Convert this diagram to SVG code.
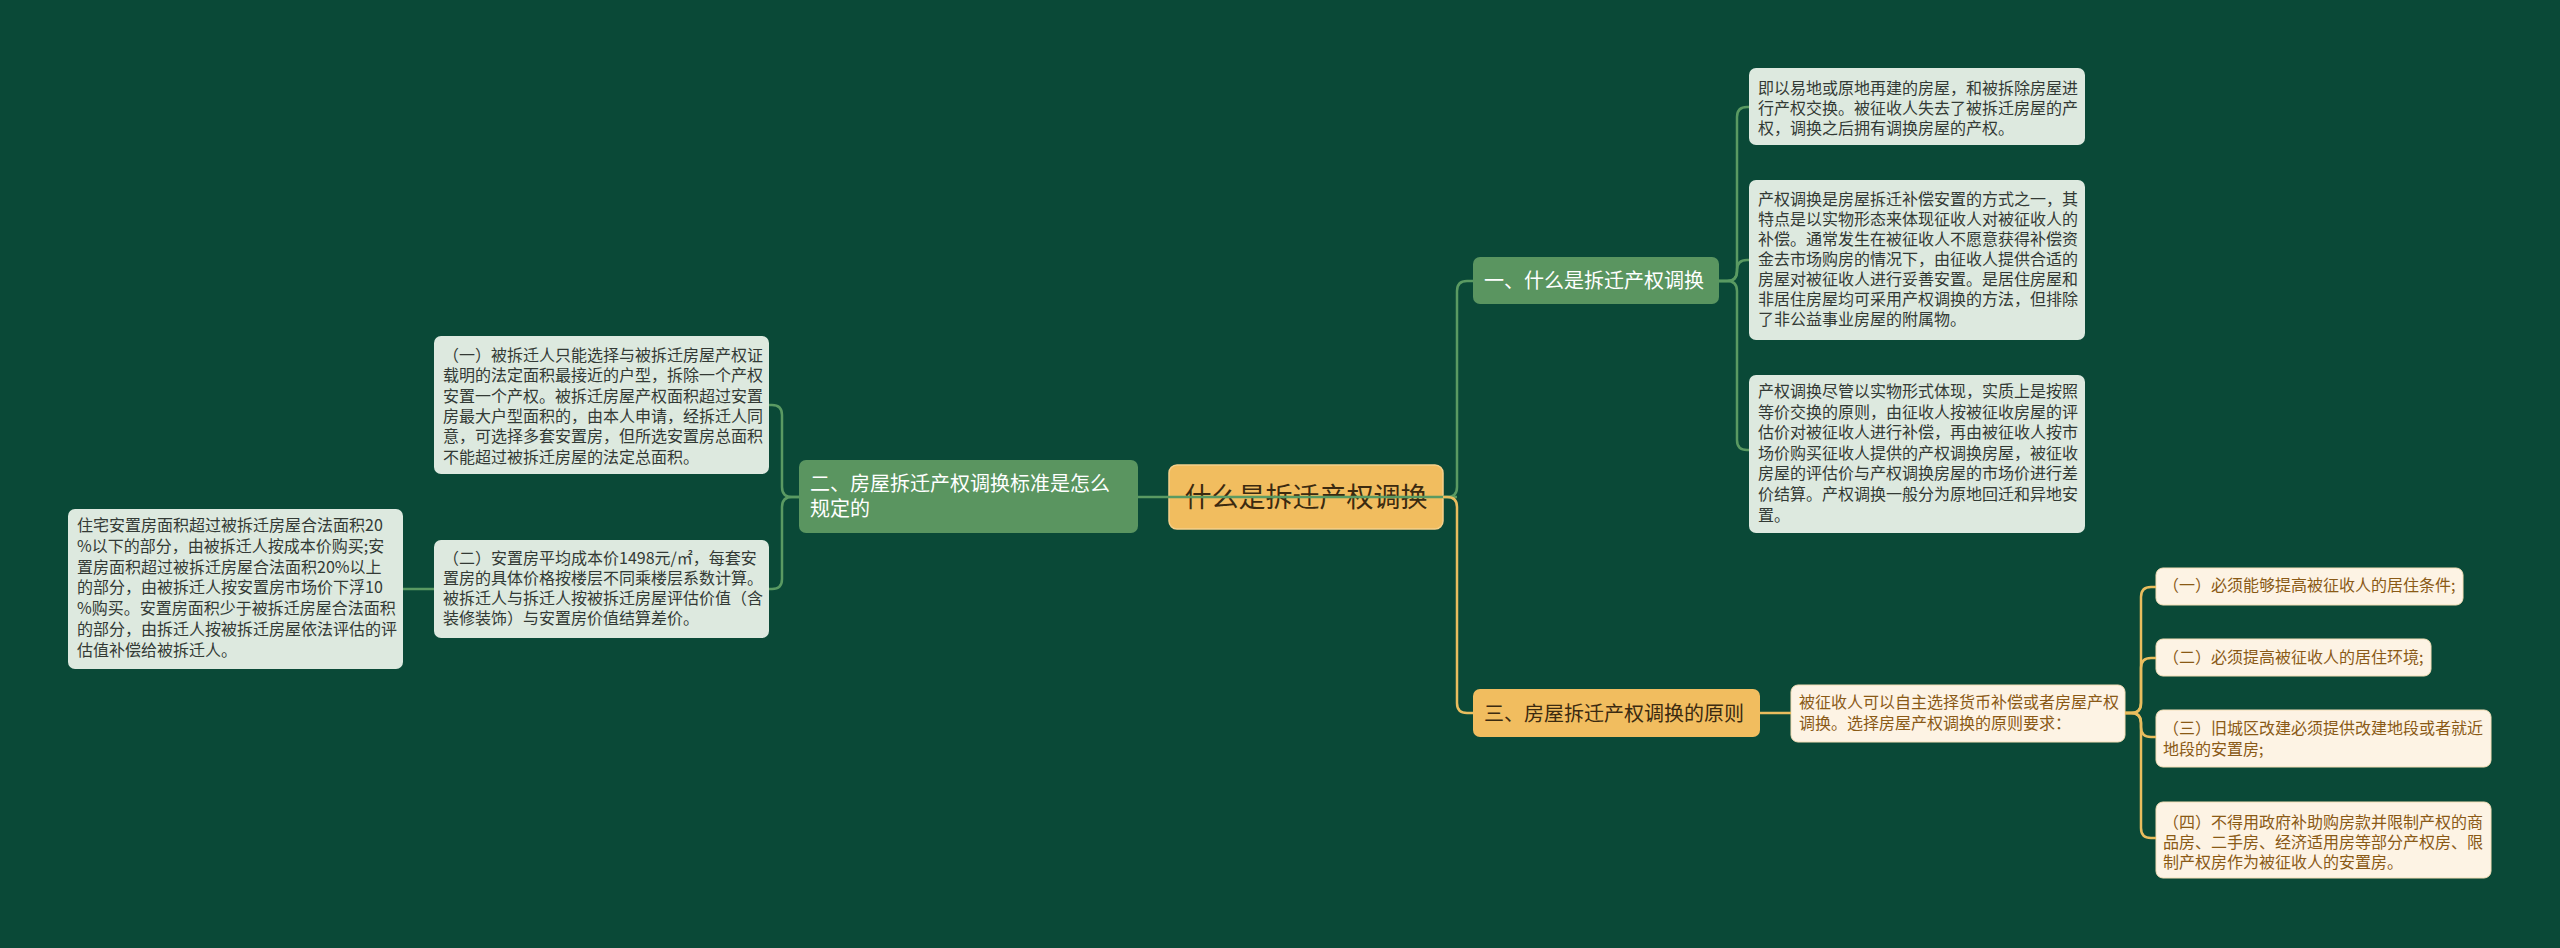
<svg xmlns="http://www.w3.org/2000/svg" width="2560" height="948" viewBox="0 0 2560 948">
<style>
text{font-family:"Noto Sans CJK SC","Noto Sans",sans-serif}
.gn{fill:#5a9560}
.gl{fill:#dde9df}
.gold{fill:#f1bd5f}
.cr{fill:#fdf3e4;stroke:#f5dfb8;stroke-width:1}
.tw{fill:#ffffff;font-size:20px}
.tb{fill:#3b2a10;font-size:20px}
.tl{fill:#333a35;font-size:16px}
.tc{fill:#8a5a16;font-size:16px}
.cg{fill:none;stroke:#5a9a62;stroke-width:2.5}
.cy{fill:none;stroke:#e9bd5e;stroke-width:2.5}
</style>
<rect width="2560" height="948" fill="#0a4937"/>
<g id="nodes">
<g id="center">
<rect x="1169" y="465" width="274" height="64" rx="8" class="gold" stroke="#f6d08a" stroke-width="1.5"/>
<text x="1306" y="507" text-anchor="middle" font-size="27" fill="#3b2a10">什么是拆迁产权调换</text>
</g>
<g id="n2">
<rect x="799" y="460" width="339" height="73" rx="7" class="gn"/>
<text class="tw" x="810"><tspan x="810" y="491">二、房屋拆迁产权调换标准是怎么</tspan><tspan x="810" y="516">规定的</tspan></text>
</g>
<g id="n2a">
<rect x="434" y="336" width="335" height="138" rx="7" class="gl"/>
<text class="tl"><tspan x="443" y="361">（一）被拆迁人只能选择与被拆迁房屋产权证</tspan><tspan x="443" y="381.3">载明的法定面积最接近的户型，拆除一个产权</tspan><tspan x="443" y="401.6">安置一个产权。被拆迁房屋产权面积超过安置</tspan><tspan x="443" y="421.9">房最大户型面积的，由本人申请，经拆迁人同</tspan><tspan x="443" y="442.2">意，可选择多套安置房，但所选安置房总面积</tspan><tspan x="443" y="462.5">不能超过被拆迁房屋的法定总面积。</tspan></text>
</g>
<g id="n2b">
<rect x="434" y="540" width="335" height="98" rx="7" class="gl"/>
<text class="tl"><tspan x="443" y="564">（二）安置房平均成本价1498元/㎡，每套安</tspan><tspan x="443" y="584">置房的具体价格按楼层不同乘楼层系数计算。</tspan><tspan x="443" y="604">被拆迁人与拆迁人按被拆迁房屋评估价值（含</tspan><tspan x="443" y="624">装修装饰）与安置房价值结算差价。</tspan></text>
</g>
<g id="n2b1">
<rect x="68" y="509" width="335" height="160" rx="7" class="gl"/>
<text class="tl"><tspan x="77" y="531">住宅安置房面积超过被拆迁房屋合法面积20</tspan><tspan x="77" y="551.8">%以下的部分，由被拆迁人按成本价购买;安</tspan><tspan x="77" y="572.6">置房面积超过被拆迁房屋合法面积20%以上</tspan><tspan x="77" y="593.4">的部分，由被拆迁人按安置房市场价下浮10</tspan><tspan x="77" y="614.2">%购买。安置房面积少于被拆迁房屋合法面积</tspan><tspan x="77" y="635">的部分，由拆迁人按被拆迁房屋依法评估的评</tspan><tspan x="77" y="655.8">估值补偿给被拆迁人。</tspan></text>
</g>
<g id="n1">
<rect x="1473" y="257" width="246" height="47" rx="7" class="gn"/>
<text class="tw" x="1484" y="288">一、什么是拆迁产权调换</text>
</g>
<g id="n1a">
<rect x="1749" y="68" width="336" height="77" rx="7" class="gl"/>
<text class="tl"><tspan x="1758" y="94">即以易地或原地再建的房屋，和被拆除房屋进</tspan><tspan x="1758" y="114">行产权交换。被征收人失去了被拆迁房屋的产</tspan><tspan x="1758" y="134">权，调换之后拥有调换房屋的产权。</tspan></text>
</g>
<g id="n1b">
<rect x="1749" y="180" width="336" height="160" rx="7" class="gl"/>
<text class="tl"><tspan x="1758" y="205">产权调换是房屋拆迁补偿安置的方式之一，其</tspan><tspan x="1758" y="225">特点是以实物形态来体现征收人对被征收人的</tspan><tspan x="1758" y="245">补偿。通常发生在被征收人不愿意获得补偿资</tspan><tspan x="1758" y="265">金去市场购房的情况下，由征收人提供合适的</tspan><tspan x="1758" y="285">房屋对被征收人进行妥善安置。是居住房屋和</tspan><tspan x="1758" y="305">非居住房屋均可采用产权调换的方法，但排除</tspan><tspan x="1758" y="325">了非公益事业房屋的附属物。</tspan></text>
</g>
<g id="n1c">
<rect x="1749" y="375" width="336" height="158" rx="7" class="gl"/>
<text class="tl"><tspan x="1758" y="397">产权调换尽管以实物形式体现，实质上是按照</tspan><tspan x="1758" y="417.6">等价交换的原则，由征收人按被征收房屋的评</tspan><tspan x="1758" y="438.2">估价对被征收人进行补偿，再由被征收人按市</tspan><tspan x="1758" y="458.8">场价购买征收人提供的产权调换房屋，被征收</tspan><tspan x="1758" y="479.4">房屋的评估价与产权调换房屋的市场价进行差</tspan><tspan x="1758" y="500">价结算。产权调换一般分为原地回迁和异地安</tspan><tspan x="1758" y="520.6">置。</tspan></text>
</g>
<g id="n3">
<rect x="1473" y="689" width="287" height="48" rx="7" class="gold"/>
<text class="tb" x="1484" y="721">三、房屋拆迁产权调换的原则</text>
</g>
<g id="n3a">
<rect x="1791" y="685" width="334" height="57" rx="7" class="cr"/>
<text class="tc"><tspan x="1799" y="708">被征收人可以自主选择货币补偿或者房屋产权</tspan><tspan x="1799" y="729">调换。选择房屋产权调换的原则要求：</tspan></text>
</g>
<g id="n3a1">
<rect x="2156" y="568" width="307" height="37" rx="7" class="cr"/>
<text class="tc" x="2163" y="591">（一）必须能够提高被征收人的居住条件;</text>
</g>
<g id="n3a2">
<rect x="2156" y="639" width="275" height="37" rx="7" class="cr"/>
<text class="tc" x="2163" y="663">（二）必须提高被征收人的居住环境;</text>
</g>
<g id="n3a3">
<rect x="2156" y="710" width="335" height="57" rx="7" class="cr"/>
<text class="tc"><tspan x="2163" y="734">（三）旧城区改建必须提供改建地段或者就近</tspan><tspan x="2163" y="755">地段的安置房;</tspan></text>
</g>
<g id="n3a4">
<rect x="2156" y="802" width="335" height="76" rx="7" class="cr"/>
<text class="tc"><tspan x="2163" y="828">（四）不得用政府补助购房款并限制产权的商</tspan><tspan x="2163" y="848">品房、二手房、经济适用房等部分产权房、限</tspan><tspan x="2163" y="868">制产权房作为被征收人的安置房。</tspan></text>
</g>
</g>
<g id="connectors">
<path class="cg" d="M1457,497 H1138"/>
<path class="cg" d="M1443,497 H1447 Q1457,497 1457,487 V291 Q1457,281 1467,281 H1473"/>
<path class="cy" d="M1443,497 H1447 Q1457,497 1457,507 V703 Q1457,713 1467,713 H1473"/>
<path class="cg" d="M799,497 H792 Q782,497 782,487 V415 Q782,405 772,405 H769"/>
<path class="cg" d="M799,497 H792 Q782,497 782,507 V579 Q782,589 772,589 H769"/>
<path class="cg" d="M434,589 H403"/>
<path class="cg" d="M1719,281 H1727 Q1737,281 1737,271 V117 Q1737,107 1747,107 H1749"/>
<path class="cg" d="M1719,281 H1727 Q1737,281 1737,271 V270 Q1737,260 1747,260 H1749"/>
<path class="cg" d="M1719,281 H1727 Q1737,281 1737,291 V440 Q1737,450 1747,450 H1749"/>
<path class="cy" d="M1760,713 H1791"/>
<path class="cy" d="M2125,713 H2131 Q2141,713 2141,703 V597 Q2141,587 2151,587 H2156"/>
<path class="cy" d="M2125,713 H2131 Q2141,713 2141,703 V668 Q2141,658 2151,658 H2156"/>
<path class="cy" d="M2125,713 H2131 Q2141,713 2141,723 V727 Q2141,737 2151,737 H2156"/>
<path class="cy" d="M2125,713 H2131 Q2141,713 2141,723 V828 Q2141,838 2151,838 H2156"/>
</g>
</svg>
